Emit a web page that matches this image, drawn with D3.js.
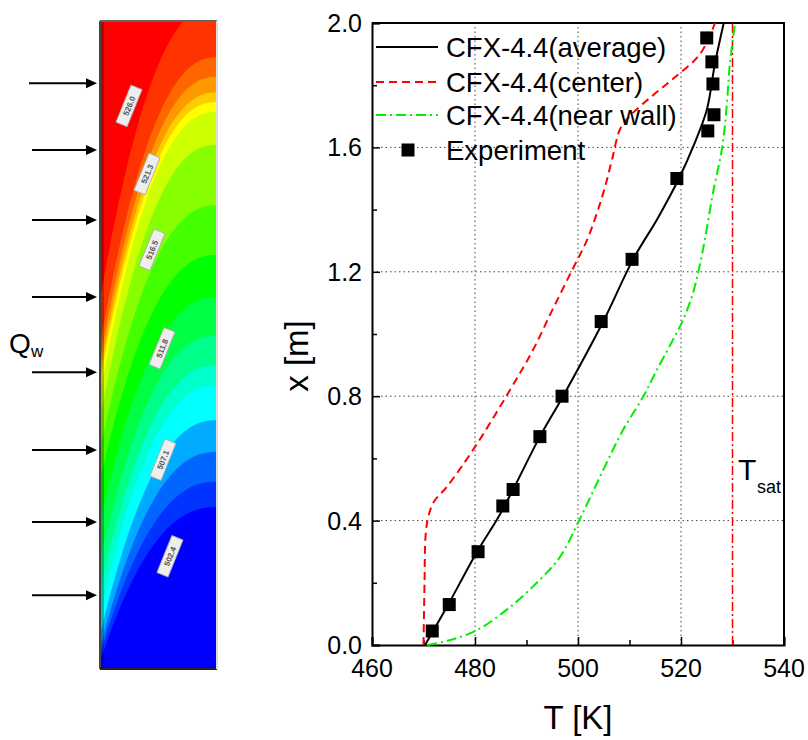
<!DOCTYPE html>
<meta charset="utf-8">
<html>
<head>
<style>
body {
  margin: 0;
  background: #fff;
  font-family: Arial, "Liberation Sans", Helvetica, sans-serif;
}
</style>
</head>
<body>
<div id="chart"></div>

<script src="https://d3js.org/d3.v7.min.js"></script>
<script>

// ---- values ----
var avgT    = [470.3, 471.7, 474.8, 480.4, 484.5, 487.4, 492.6, 497.1, 504.9, 510.7, 515.4, 519.6, 522.3, 525.0, 526.6, 528.3];
var avgX    = [0, 0.04, 0.13, 0.30, 0.41, 0.50, 0.67, 0.80, 1.04, 1.24, 1.37, 1.50, 1.60, 1.72, 1.87, 2.0];
var centerT = [470.0, 470.2, 470.4, 470.9, 472.0, 474.6, 480.0, 486.8, 491.3, 495.1, 499.0, 501.7, 503.7, 505.2, 506.6, 508.2, 510.0, 514.0, 518.4, 523.7, 526.6];
var centerX = [0, 0.2, 0.35, 0.41, 0.46, 0.51, 0.637, 0.82, 0.95, 1.08, 1.21, 1.30, 1.39, 1.47, 1.56, 1.66, 1.70, 1.76, 1.82, 1.90, 2.0];
var wallT   = [470.7, 475.0, 480.4, 486.8, 492.6, 496.5, 500.2, 504.9, 508.7, 512.6, 515.3, 518.4, 520.4, 522.3, 523.5, 524.7, 526.2, 528.0, 528.9, 529.5, 530.5];
var wallX   = [0, 0.015, 0.048, 0.122, 0.21, 0.283, 0.40, 0.563, 0.69, 0.797, 0.884, 0.98, 1.045, 1.13, 1.21, 1.31, 1.453, 1.60, 1.74, 1.87, 2.0];
var expT    = [471.7, 475.0, 480.6, 485.4, 487.4, 492.6, 496.9, 504.5, 510.5, 519.2, 525.2, 526.4, 526.2, 526.0, 525.0];
var expX    = [0.045, 0.13, 0.30, 0.447, 0.50, 0.67, 0.80, 1.04, 1.24, 1.50, 1.653, 1.705, 1.804, 1.875, 1.952];
var Tsat = 530;

var xTicks = [460, 480, 500, 520, 540];
var yTicks = [0.0, 0.4, 0.8, 1.2, 1.6, 2.0];
var legendLabels = ["CFX-4.4(average)", "CFX-4.4(center)", "CFX-4.4(near wall)", "Experiment"];

// contour picture on the left (heights as fraction of the channel, 0 = bottom)
var bandColors = ["#ff0000", "#ff3300", "#ff6600", "#ff9900", "#ffcc00", "#ffff00", "#ccff00", "#88ff00", "#44ff00",
                  "#00ff00", "#00ff44", "#00ff88", "#00ffcc", "#00ffff", "#00aaff", "#0066ff", "#0033ff", "#0000ff"];
var bandWallH = [0.569, 0.50, 0.477, 0.461, 0.446, 0.423, 0.384, 0.338, 0.292, 0.230, 0.168, 0.122, 0.083, 0.052, 0.032, 0.022, 0.011];
var bandEdgeH = [1.026, 0.944, 0.914, 0.890, 0.875, 0.860, 0.809, 0.716, 0.639, 0.574, 0.515, 0.469, 0.438, 0.384, 0.335, 0.289, 0.25];
var arrowH = [0.904, 0.801, 0.693, 0.574, 0.458, 0.338, 0.227, 0.114];
var contourLabelU = [0.248, 0.402, 0.444, 0.53, 0.538, 0.598];
var contourLabelH = [0.869, 0.764, 0.647, 0.495, 0.323, 0.174];
var contourLabelText = ["526.0", "521.3", "516.5", "511.8", "507.1", "502.4"];

var W = 808, H = 740;
var svg = d3.select("#chart").append("svg")
    .attr("width", W)
    .attr("height", H);

// ================= left: contour panel =================
var pu = d3.scaleLinear().domain([0, 1]).range([100, 217]);
var ph = d3.scaleLinear().domain([0, 1]).range([669, 21]);

svg.append("clipPath").attr("id", "panelClip")
  .append("rect")
    .attr("x", pu(0)).attr("y", ph(1))
    .attr("width", pu(1) - pu(0)).attr("height", ph(0) - ph(1));

var panel = svg.append("g").attr("clip-path", "url(#panelClip)");

panel.append("rect")
    .attr("x", pu(0)).attr("y", ph(1))
    .attr("width", pu(1) - pu(0)).attr("height", ph(0) - ph(1))
    .attr("fill", bandColors[bandColors.length - 1]);

var uSteps = d3.range(0, 1.0001, 0.02);
var bandLine = d3.line()
    .x(function(d) { return pu(d[0]); })
    .y(function(d) { return ph(d[1]); });

// paint from cold to hot: every boundary fills the region above it
for (var k = bandWallH.length - 1; k >= 0; k--) {
  var hw = bandWallH[k], he = bandEdgeH[k];
  var pts = [[0, 1.1]];
  uSteps.forEach(function(u) {
    pts.push([u, hw + (he - hw) * (1 - Math.pow(1 - u, 2.3))]);
  });
  pts.push([1, 1.1]);
  panel.append("path")
      .attr("d", bandLine(pts) + "Z")
      .attr("fill", bandColors[k]);
}

// darker strip along the heated wall
panel.append("rect")
    .attr("x", pu(0)).attr("y", ph(1))
    .attr("width", 4).attr("height", ph(0) - ph(1))
    .attr("fill", "#000").attr("opacity", 0.25);

// contour labels
contourLabelText.forEach(function(t, i) {
  var g = panel.append("g")
      .attr("transform", "translate(" + pu(contourLabelU[i]) + "," + ph(contourLabelH[i]) + ") rotate(-68)");
  g.append("rect")
      .attr("x", -20).attr("y", -6).attr("width", 40).attr("height", 12)
      .attr("fill", "#eeeeee").attr("stroke", "#aaa").attr("stroke-width", 0.8);
  g.append("text")
      .attr("text-anchor", "middle").attr("y", 3)
      .style("font-size", "8px").style("font-weight", "bold")
      .attr("fill", "#555")
      .text(t);
});

// panel border
svg.append("line").attr("x1", pu(0)).attr("x2", pu(0)).attr("y1", ph(1)).attr("y2", ph(0))
    .attr("stroke", "#444").attr("stroke-width", 2);
svg.append("line").attr("x1", pu(0)).attr("x2", pu(1)).attr("y1", ph(0)).attr("y2", ph(0))
    .attr("stroke", "#222").attr("stroke-width", 2);
svg.append("line").attr("x1", pu(0)).attr("x2", pu(1)).attr("y1", ph(1)).attr("y2", ph(1))
    .attr("stroke", "#666").attr("stroke-width", 2);
svg.append("line").attr("x1", pu(1)).attr("x2", pu(1)).attr("y1", ph(1)).attr("y2", ph(0))
    .attr("stroke", "#ddd").attr("stroke-width", 2);

// heat flux arrows
arrowH.forEach(function(h, i) {
  var y = ph(h);
  svg.append("line")
      .attr("x1", i === 0 ? 29 : 32).attr("x2", 88)
      .attr("y1", y).attr("y2", y)
      .attr("stroke", "#000").attr("stroke-width", 2);
  svg.append("path")
      .attr("d", "M86," + (y - 5) + "L97," + y + "L86," + (y + 5) + "Z")
      .attr("fill", "#000");
});

svg.append("text").attr("x", 9).attr("y", 353)
    .style("font-size", "28px").text("Q");
svg.append("text").attr("x", 31).attr("y", 357)
    .style("font-size", "17px").text("w");

// ================= right: temperature profiles =================
var x = d3.scaleLinear().domain([460, 540]).range([372, 784]);
var y = d3.scaleLinear().domain([0, 2]).range([645, 23]);

// grid
svg.append("g").selectAll("line")
  .data([480, 500, 520]).enter().append("line")
    .attr("x1", function(d) { return x(d); }).attr("x2", function(d) { return x(d); })
    .attr("y1", y(0)).attr("y2", y(2))
    .attr("stroke", "#444").attr("stroke-width", 1).attr("stroke-dasharray", "1.5,3");
svg.append("g").selectAll("line")
  .data([0.4, 0.8, 1.2, 1.6]).enter().append("line")
    .attr("x1", x(460)).attr("x2", x(540))
    .attr("y1", function(d) { return y(d); }).attr("y2", function(d) { return y(d); })
    .attr("stroke", "#444").attr("stroke-width", 1).attr("stroke-dasharray", "1.5,3");

// axes with inward ticks
var xAxis = svg.append("g")
    .attr("transform", "translate(0," + y(0) + ")")
    .call(d3.axisBottom(x).tickValues(d3.range(460, 541, 10)).tickSize(-8).tickFormat(""));
xAxis.selectAll(".tick line")
    .attr("y2", function(d) { return d % 20 === 0 ? -8 : -5; })
    .attr("stroke-width", 1.5);
xAxis.select(".domain").attr("stroke-width", 2);

var yAxis = svg.append("g")
    .attr("transform", "translate(" + x(460) + ",0)")
    .call(d3.axisLeft(y).tickValues(d3.range(0, 2.001, 0.2)).tickSize(-8).tickFormat(""));
yAxis.selectAll(".tick line")
    .attr("x2", function(d, i) { return i % 2 === 0 ? 8 : 5; })
    .attr("stroke-width", 1.5);
yAxis.select(".domain").attr("stroke-width", 2);

// top and right frame
svg.append("path")
    .attr("d", "M" + x(460) + "," + y(2) + "H" + x(540) + "V" + y(0))
    .attr("fill", "none").attr("stroke", "#000").attr("stroke-width", 2);

// tick labels
svg.append("g").selectAll("text")
  .data(xTicks).enter().append("text")
    .attr("x", function(d) { return x(d); })
    .attr("y", 677)
    .attr("text-anchor", "middle")
    .style("font-size", "25px")
    .text(function(d) { return d; });
svg.append("g").selectAll("text")
  .data(yTicks).enter().append("text")
    .attr("x", 362)
    .attr("y", function(d) { return y(d) + 9; })
    .attr("text-anchor", "end")
    .style("font-size", "25px")
    .text(function(d) { return d.toFixed(1); });

// axis titles
svg.append("text")
    .attr("x", 578).attr("y", 729)
    .attr("text-anchor", "middle")
    .style("font-size", "33px")
    .text("T [K]");
svg.append("text")
    .attr("transform", "translate(308,356) rotate(-90)")
    .attr("text-anchor", "middle")
    .style("font-size", "33px")
    .text("x [m]");

// saturation temperature
svg.append("line")
    .attr("x1", x(Tsat)).attr("x2", x(Tsat))
    .attr("y1", y(0)).attr("y2", y(2))
    .attr("stroke", "#ff0000").attr("stroke-width", 1.5)
    .attr("stroke-dasharray", "9,3,2,3");
svg.append("text").attr("x", 738).attr("y", 480)
    .style("font-size", "30px").text("T");
svg.append("text").attr("x", 757).attr("y", 493)
    .style("font-size", "18px").text("sat");

// profiles
var profile = d3.line()
    .x(function(d) { return x(d[0]); })
    .y(function(d) { return y(d[1]); })
    .curve(d3.curveCatmullRom.alpha(0.5));

svg.append("path")
    .datum(d3.zip(centerT, centerX))
    .attr("d", profile)
    .attr("fill", "none").attr("stroke", "#ff0000").attr("stroke-width", 2)
    .attr("stroke-dasharray", "8,5");

svg.append("path")
    .datum(d3.zip(wallT, wallX))
    .attr("d", profile)
    .attr("fill", "none").attr("stroke", "#00ee00").attr("stroke-width", 2)
    .attr("stroke-dasharray", "10,4,2,4");

svg.append("path")
    .datum(d3.zip(avgT, avgX))
    .attr("d", profile)
    .attr("fill", "none").attr("stroke", "#000").attr("stroke-width", 2);

svg.append("g").selectAll("rect")
  .data(d3.zip(expT, expX)).enter().append("rect")
    .attr("x", function(d) { return x(d[0]) - 6.5; })
    .attr("y", function(d) { return y(d[1]) - 6.5; })
    .attr("width", 13).attr("height", 13)
    .attr("fill", "#000");

// legend
var legendRowY = [47, 82, 115, 150];
var legendStroke = ["#000", "#ff0000", "#00ee00", null];
var legendDash = [null, "8,5", "10,4,2,4", null];
legendLabels.forEach(function(label, i) {
  var ly = legendRowY[i];
  if (legendStroke[i]) {
    svg.append("line")
        .attr("x1", 376).attr("x2", 438).attr("y1", ly).attr("y2", ly)
        .attr("stroke", legendStroke[i]).attr("stroke-width", 2)
        .attr("stroke-dasharray", legendDash[i]);
  } else {
    svg.append("rect")
        .attr("x", 401.5).attr("y", ly - 6.5).attr("width", 13).attr("height", 13)
        .attr("fill", "#000");
  }
  svg.append("text")
      .attr("x", 446).attr("y", ly + 9.5)
      .style("font-size", "27.5px")
      .text(label);
});

</script>
</body>
</html>
